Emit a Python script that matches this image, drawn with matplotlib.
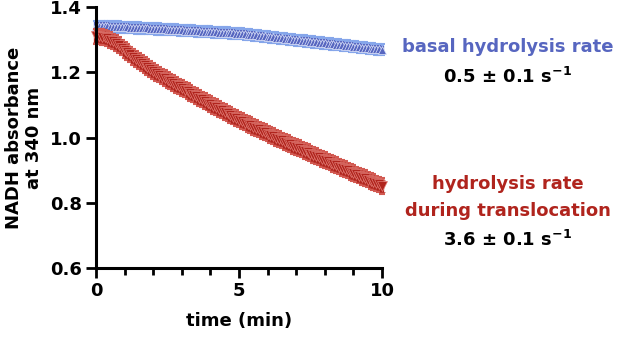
import numpy as np
import matplotlib
matplotlib.use("Agg")
import matplotlib.pyplot as plt
from matplotlib.ticker import MultipleLocator

plt.rcParams['font.family'] = ['DejaVu Sans']
plt.rcParams['font.weight'] = 'bold'
plt.rcParams['mathtext.fontset'] = 'custom'
plt.rcParams['mathtext.rm'] = 'DejaVu Sans:bold'
plt.rcParams['mathtext.bf'] = 'DejaVu Sans:bold'

# time points, one read every 6 s (min)
time_min = np.linspace(0, 10, 101)

# basal ATP hydrolysis (NADH absorbance at 340 nm)
basal_abs = [
    1.342, 1.342, 1.341, 1.341, 1.341, 1.340, 1.340, 1.339, 1.339, 1.338,
    1.338, 1.338, 1.337, 1.337, 1.336, 1.336, 1.335, 1.335, 1.335, 1.334,
    1.334, 1.333, 1.333, 1.332, 1.332, 1.331, 1.331, 1.330, 1.330, 1.329,
    1.329, 1.328, 1.328, 1.327, 1.327, 1.326, 1.326, 1.325, 1.325, 1.324,
    1.324, 1.323, 1.323, 1.322, 1.322, 1.321, 1.321, 1.320, 1.320, 1.319,
    1.319, 1.318, 1.317, 1.316, 1.315, 1.314, 1.313, 1.312, 1.311, 1.310,
    1.309, 1.308, 1.307, 1.306, 1.305, 1.304, 1.303, 1.302, 1.301, 1.300,
    1.299, 1.298, 1.297, 1.296, 1.295, 1.294, 1.293, 1.292, 1.291, 1.290,
    1.289, 1.288, 1.287, 1.286, 1.285, 1.284, 1.283, 1.282, 1.281, 1.280,
    1.279, 1.278, 1.277, 1.276, 1.275, 1.274, 1.273, 1.272, 1.271, 1.271,
    1.270,
]
basal_err = 0.017

# hydrolysis during translocation
transloc_abs = [
    1.310, 1.310, 1.309, 1.307, 1.304, 1.300, 1.295, 1.289, 1.283, 1.276,
    1.269, 1.262, 1.255, 1.248, 1.241, 1.234, 1.228, 1.222, 1.216, 1.210,
    1.204, 1.198, 1.193, 1.187, 1.182, 1.177, 1.172, 1.167, 1.162, 1.157,
    1.152, 1.147, 1.142, 1.137, 1.132, 1.127, 1.122, 1.117, 1.112, 1.107,
    1.102, 1.097, 1.093, 1.088, 1.083, 1.078, 1.074, 1.069, 1.064, 1.060,
    1.055, 1.051, 1.046, 1.042, 1.038, 1.033, 1.029, 1.025, 1.020, 1.016,
    1.012, 1.008, 1.004, 0.999, 0.995, 0.991, 0.987, 0.983, 0.979, 0.975,
    0.971, 0.967, 0.963, 0.959, 0.955, 0.951, 0.947, 0.943, 0.939, 0.935,
    0.931, 0.927, 0.923, 0.919, 0.915, 0.911, 0.907, 0.903, 0.899, 0.895,
    0.891, 0.887, 0.883, 0.879, 0.875, 0.871, 0.867, 0.863, 0.859, 0.856,
    0.852,
]
transloc_err = 0.024

blue = "#5766c0"
blue_light = "#86a6ea"
red = "#b0241d"
red_light = "#d25a52"

fig = plt.figure(figsize=(6.17, 3.40), dpi=100)
ax = fig.add_axes([0.1556, 0.212, 0.4635, 0.767])

# error bars drawn thick and dense so they merge into a band
ax.errorbar(time_min, basal_abs, yerr=basal_err, fmt='none', ecolor=blue_light,
            elinewidth=3, capsize=2, capthick=1.5, zorder=2, clip_on=False)
ax.errorbar(time_min, basal_abs, yerr=basal_err * 0.7, fmt='^', color=blue,
            ms=6, mec='#dfe6fb', mew=0.5, ecolor=blue, elinewidth=3,
            zorder=3, clip_on=False)

ax.errorbar(time_min, transloc_abs, yerr=transloc_err, fmt='none', ecolor=red_light,
            elinewidth=3, capsize=2.5, capthick=1.5, zorder=4, clip_on=False)
ax.errorbar(time_min, transloc_abs, yerr=transloc_err * 0.75, fmt='v', color=red,
            ms=7, mec='#e27d76', mew=0.5, ecolor=red, elinewidth=3,
            capsize=2.5, capthick=1.5, zorder=5, clip_on=False)

ax.set_xlim(0, 10)
ax.set_ylim(0.6, 1.4)
ax.xaxis.set_major_locator(MultipleLocator(5))
ax.xaxis.set_minor_locator(MultipleLocator(1))
ax.yaxis.set_major_locator(MultipleLocator(0.2))
ax.yaxis.set_major_formatter(plt.FuncFormatter(lambda v, p: f"{v:.1f}"))

for side in ['top', 'right']:
    ax.spines[side].set_visible(False)
for side in ['left', 'bottom']:
    ax.spines[side].set_linewidth(2.2)
    ax.spines[side].set_zorder(6)
ax.tick_params(which='major', length=7, width=2, labelsize=13, pad=3)
ax.tick_params(which='minor', length=5, width=2)
for lab in ax.get_xticklabels() + ax.get_yticklabels():
    lab.set_fontweight('bold')

ax.set_xlabel("time (min)", fontsize=13, fontweight='bold', labelpad=9)
ax.set_ylabel("NADH absorbance\nat 340 nm", fontsize=13, fontweight='bold',
              linespacing=1.15, labelpad=5)

fig.text(0.823, 0.862, "basal hydrolysis rate", color=blue, fontsize=13,
         fontweight='bold', ha='center', va='center')
fig.text(0.823, 0.774, r"0.5 ± 0.1 s$^{\mathbf{-1}}$", color='black',
         fontsize=13, fontweight='bold', ha='center', va='center')
fig.text(0.823, 0.459, "hydrolysis rate", color=red, fontsize=13,
         fontweight='bold', ha='center', va='center')
fig.text(0.823, 0.379, "during translocation", color=red, fontsize=13,
         fontweight='bold', ha='center', va='center')
fig.text(0.823, 0.294, r"3.6 ± 0.1 s$^{\mathbf{-1}}$", color='black',
         fontsize=13, fontweight='bold', ha='center', va='center')

fig.savefig("out.png", dpi=100)
